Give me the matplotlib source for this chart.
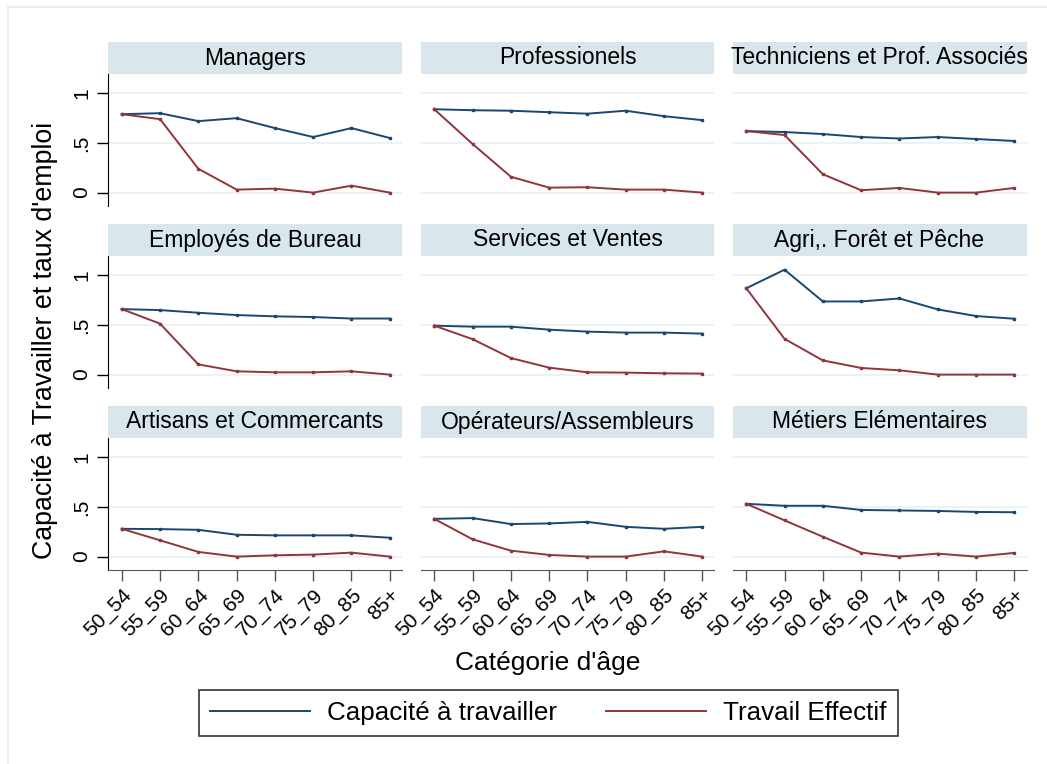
import matplotlib

matplotlib.use("Agg")
import matplotlib.pyplot as plt
from matplotlib.patches import Rectangle

plt.rcParams["font.family"] = ["Liberation Sans", "DejaVu Sans"]

C_CAP = "#1a476f"
C_TRAV = "#90353b"
C_STRIP = "#d9e6eb"
C_GRID = "#eaf2f3"

ages = ["50_54", "55_59", "60_64", "65_69", "70_74", "75_79", "80_85", "85+"]

categories = [
    "Managers", "Professionels", "Techniciens et Prof. Associés",
    "Employés de Bureau", "Services et Ventes", "Agri,. Forêt et Pêche",
    "Artisans et Commercants", "Opérateurs/Assembleurs", "Métiers Elémentaires",
]

capacite = [
    [0.79, 0.80, 0.72, 0.75, 0.65, 0.56, 0.65, 0.55],
    [0.84, 0.83, 0.825, 0.81, 0.795, 0.825, 0.77, 0.73],
    [0.62, 0.61, 0.59, 0.56, 0.545, 0.56, 0.54, 0.52],
    [0.66, 0.65, 0.623, 0.60, 0.587, 0.58, 0.565, 0.565],
    [0.493, 0.483, 0.483, 0.453, 0.433, 0.423, 0.423, 0.413],
    [0.87, 1.057, 0.737, 0.737, 0.767, 0.657, 0.59, 0.563],
    [0.28, 0.277, 0.27, 0.22, 0.214, 0.214, 0.214, 0.19],
    [0.38, 0.388, 0.328, 0.334, 0.35, 0.30, 0.28, 0.30],
    [0.532, 0.512, 0.512, 0.47, 0.465, 0.46, 0.45, 0.447],
]

travail = [
    [0.79, 0.74, 0.24, 0.03, 0.04, 0.0, 0.07, 0.0],
    [0.84, 0.49, 0.16, 0.05, 0.054, 0.03, 0.03, 0.0],
    [0.62, 0.58, 0.185, 0.024, 0.047, 0.0, 0.0, 0.047],
    [0.66, 0.513, 0.103, 0.033, 0.023, 0.023, 0.033, 0.0],
    [0.493, 0.357, 0.167, 0.07, 0.023, 0.02, 0.013, 0.01],
    [0.87, 0.36, 0.143, 0.067, 0.043, 0.0, 0.0, 0.0],
    [0.28, 0.164, 0.047, 0.0, 0.013, 0.02, 0.04, 0.0],
    [0.38, 0.174, 0.06, 0.017, 0.0, 0.0, 0.053, 0.0],
    [0.532, 0.365, 0.2, 0.04, 0.0, 0.03, 0.0, 0.037],
]

W, H = 1047, 764
fig = plt.figure(figsize=(W / 100, H / 100), dpi=100)

# faint outer frame of the graph region
fig.add_artist(Rectangle((8 / W, -0.01), 1, 1 - 7 / H + 0.01, transform=fig.transFigure,
                         fill=False, edgecolor="#e6eef0", lw=1.5))

col_x = [108, 420.5, 732.5]
panel_w = 294
strip_top = [42, 224, 406]
strip_h = 32
plot_h = 132


def px_axes(x, y, w, h):
    # axes placed in pixel coordinates measured from the top-left corner
    return fig.add_axes([x / W, 1 - (y + h) / H, w / W, h / H])


lines = []
for i, cat in enumerate(categories):
    r, c = divmod(i, 3)
    x0 = col_x[c]
    st = px_axes(x0, strip_top[r], panel_w, strip_h)
    st.set_facecolor(C_STRIP)
    st.set_xticks([])
    st.set_yticks([])
    for s in st.spines.values():
        s.set_visible(False)
    st.text(0.5, 0.5, cat, ha="center", va="center", fontsize=16.5,
            transform=st.transAxes, clip_on=False)

    ax = px_axes(x0, strip_top[r] + strip_h, panel_w, plot_h)
    x = range(len(ages))
    l1, = ax.plot(x, capacite[i], color=C_CAP, lw=1.4, marker="s", ms=2)
    l2, = ax.plot(x, travail[i], color=C_TRAV, lw=1.4, marker="s", ms=2)
    lines = [l1, l2]
    ax.set_xlim(-0.36, 7.32)
    ax.set_ylim(-0.135, 1.195)
    ax.set_yticks([0, 0.5, 1])
    ax.yaxis.grid(True, color=C_GRID, lw=1.3)
    ax.set_axisbelow(True)
    for s in ["top", "right"]:
        ax.spines[s].set_visible(False)
    if c == 0:
        ax.set_yticklabels(["0", ".5", "1"], rotation=90, va="center", fontsize=15)
        ax.tick_params(axis="y", length=8, width=1, pad=4)
    else:
        ax.spines["left"].set_visible(False)
        ax.tick_params(axis="y", length=0, labelleft=False)
    ax.set_xticks(list(x))
    if r == 2:
        ax.set_xticklabels(ages, rotation=45, ha="right", rotation_mode="anchor",
                           fontsize=15)
        ax.tick_params(axis="x", length=8, width=1, pad=3, color="#555555")
        ax.spines["bottom"].set_color("#555555")
    else:
        ax.spines["bottom"].set_visible(False)
        ax.tick_params(axis="x", length=0, labelbottom=False)

fig.text(45 / W, 1 - 340 / H, "Capacité à Travailler et taux d'emploi", rotation=90,
         ha="center", va="center", fontsize=19.3)
fig.text(548 / W, 1 - 663 / H, "Catégorie d'âge", ha="center", va="center", fontsize=19)

fig.legend(lines, ["Capacité à travailler", "Travail Effectif"], loc="center",
           bbox_to_anchor=(195 / W, 1 - 738 / H, 707 / W, 50 / H), ncol=2,
           fontsize=18.7, frameon=True, fancybox=False, edgecolor="black",
           handlelength=3.85, columnspacing=1.9, handletextpad=0.65,
           borderpad=0.42, borderaxespad=0)
leg = fig.legends[0]
leg.get_frame().set_linewidth(1.2)
for h in leg.legend_handles:
    h.set_marker("")

fig.savefig("out.png", dpi=100)
